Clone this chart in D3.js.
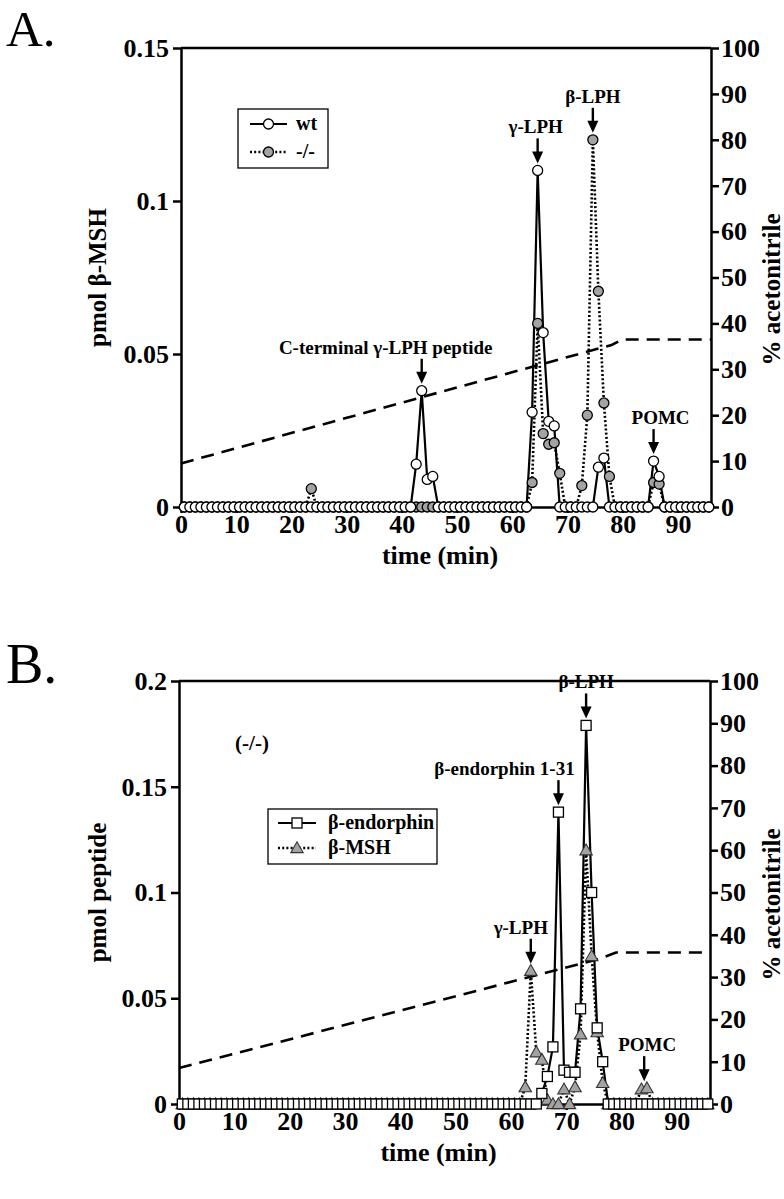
<!DOCTYPE html>
<html><head><meta charset="utf-8">
<script src="https://cdn.jsdelivr.net/npm/d3@7"></script>
<style>
body{margin:0;background:#fff;}
text{font-family:"Liberation Serif","Times New Roman",serif;}
</style>
</head><body>
<svg id="c" width="784" height="1199"></svg>
<script>
// ---------- DATA ----------
const times = [0.6,1.6,2.6,3.6,4.6,5.6,6.6,7.6,8.6,9.6,
 10.6,11.6,12.6,13.6,14.6,15.6,16.6,17.6,18.6,19.6,
 20.6,21.6,22.6,23.6,24.6,25.6,26.6,27.6,28.6,29.6,
 30.6,31.6,32.6,33.6,34.6,35.6,36.6,37.6,38.6,39.6,
 40.6,41.6,42.6,43.6,44.6,45.6,46.6,47.6,48.6,49.6,
 50.6,51.6,52.6,53.6,54.6,55.6,56.6,57.6,58.6,59.6,
 60.6,61.6,62.6,63.6,64.6,65.6,66.6,67.6,68.6,69.6,
 70.6,71.6,72.6,73.6,74.6,75.6,76.6,77.6,78.6,79.6,
 80.6,81.6,82.6,83.6,84.6,85.6,86.6,87.6,88.6,89.6,
 90.6,91.6,92.6,93.6,94.6,95.6];

// Panel A: pmol beta-MSH
const wtA = [0,0,0,0,0,0,0,0,0,0,
 0,0,0,0,0,0,0,0,0,0,
 0,0,0,0,0,0,0,0,0,0,
 0,0,0,0,0,0,0,0,0,0,
 0,0,0.014,0.038,0.009,0.010,0,0,0,0,
 0,0,0,0,0,0,0,0,0,0,
 0,0,0,0.031,0.110,0.057,0.028,0.0265,0,0,
 0,0,0,0,0,0.013,0.016,0,0,0,
 0,0,0,0,0,0.015,0.010,0,0,0,
 0,0,0,0,0,0];
const koA = [0,0,0,0,0,0,0,0,0,0,
 0,0,0,0,0,0,0,0,0,0,
 0,0,0,0.006,0,0,0,0,0,0,
 0,0,0,0,0,0,0,0,0,0,
 0,0,0,0,0,0,0,0,0,0,
 0,0,0,0,0,0,0,0,0,0,
 0,0,0,0.008,0.060,0.024,0.0205,0.021,0.011,0,
 0,0,0.007,0.030,0.120,0.0705,0.034,0.010,0,0,
 0,0,0,0,0,0.008,0.0075,0,0,0,
 0,0,0,0,0,0];

// Panel B: pmol peptide (-/-)
const endoB = [0,0,0,0,0,0,0,0,0,0,
 0,0,0,0,0,0,0,0,0,0,
 0,0,0,0,0,0,0,0,0,0,
 0,0,0,0,0,0,0,0,0,0,
 0,0,0,0,0,0,0,0,0,0,
 0,0,0,0,0,0,0,0,0,0,
 0,0,0,0,0,0.005,0.013,0.027,0.138,0.016,
 0.015,0.015,0.045,0.179,0.100,0.036,0.020,0,0,0,
 0,0,0,0,0,0,0,0,0,0,
 0,0,0,0,0,0];
const mshB = [0,0,0,0,0,0,0,0,0,0,
 0,0,0,0,0,0,0,0,0,0,
 0,0,0,0,0,0,0,0,0,0,
 0,0,0,0,0,0,0,0,0,0,
 0,0,0,0,0,0,0,0,0,0,
 0,0,0,0,0,0,0,0,0,0,
 0,0,0.008,0.063,0.0245,0.021,0.002,0,0,0.007,
 0,0.008,0.033,0.120,0.070,0.034,0.010,0,0,0,
 0,0,0,0.007,0.0075,0,0,0,0,0,
 0,0,0,0,0,0];

// % acetonitrile gradient
const gradTimesA = [0,78,80,96];
const gradA = [9.5,35.3,36.5,36.5];
const gradTimesB = [0,76,79,96];
const gradB = [8.5,34.3,35.8,35.8];

// ticks
const xTicks = [0,10,20,30,40,50,60,70,80,90];
const yTicksA = [0,0.05,0.1,0.15];
const yTicksB = [0,0.05,0.1,0.15,0.2];
const rTicks = [0,10,20,30,40,50,60,70,80,90,100];

// annotations: label, time, value
const annA = [
  {label:"C-terminal \u03b3-LPH peptide", t:43.6, v:0.038, dx:-36},
  {label:"\u03b3-LPH", t:64.6, v:0.110, dx:-2},
  {label:"\u03b2-LPH", t:74.6, v:0.120, dx:0},
  {label:"POMC", t:85.6, v:0.015, dx:7}
];
const annB = [
  {label:"\u03b2-LPH", t:73.6, v:0.179, dx:0},
  {label:"\u03b2-endorphin 1-31", t:68.6, v:0.138, dx:-54},
  {label:"\u03b3-LPH", t:63.6, v:0.063, dx:-10},
  {label:"POMC", t:84.1, v:0.0075, dx:3}
];

// ---------- DRAW ----------
const svg = d3.select("#c");
const FONT = '"Liberation Serif","Times New Roman",serif';
const GRAY = "#a3a3a3";

function marker(g, type, fill, cx, cy) {
  if (type === "circle") {
    g.append("circle").attr("cx",cx).attr("cy",cy).attr("r",5)
      .attr("fill",fill).attr("stroke","#000").attr("stroke-width",1.3);
  } else if (type === "square") {
    g.append("rect").attr("x",cx-5).attr("y",cy-5).attr("width",10).attr("height",10)
      .attr("fill",fill).attr("stroke","#000").attr("stroke-width",1.3);
  } else {
    const s = 6.2;
    g.append("path").attr("d",`M${cx},${cy-s}L${cx+s},${cy+s*0.75}L${cx-s},${cy+s*0.75}Z`)
      .attr("fill",fill).attr("stroke","#333").attr("stroke-width",1.1);
  }
}

function drawPanel(o) {
  const g = svg.append("g");
  const x = d3.scaleLinear().domain([0,96]).range([o.left,o.right]);
  const y = d3.scaleLinear().domain([0,o.ymax]).range([o.bottom,o.top]);
  const yr = d3.scaleLinear().domain([0,100]).range([o.bottom,o.top]);

  // gradient
  g.append("path").datum(d3.zip(o.gradT,o.gradV))
    .attr("d", d3.line().x(d=>x(d[0])).y(d=>yr(d[1])))
    .attr("fill","none").attr("stroke","#000").attr("stroke-width",2.6)
    .attr("stroke-dasharray","13 8");

  // top frame
  g.append("line").attr("x1",o.left).attr("x2",o.right).attr("y1",o.top).attr("y2",o.top)
    .attr("stroke","#000").attr("stroke-width",2.5);

  const styleAxis = sel => {
    sel.selectAll(".domain").attr("stroke-width",2.5);
    sel.selectAll(".tick line").attr("stroke-width",2.5);
    sel.selectAll("text").attr("font-family",FONT).attr("font-weight","bold")
      .attr("font-size",26).attr("fill","#000");
  };
  g.append("g").attr("transform",`translate(0,${o.bottom})`)
    .call(d3.axisBottom(x).tickValues(xTicks).tickSize(6).tickSizeOuter(0).tickPadding(2).tickFormat(d3.format("d")))
    .call(styleAxis);
  g.append("g").attr("transform",`translate(${o.left},0)`)
    .call(d3.axisLeft(y).tickValues(o.yTicks).tickSize(8).tickSizeOuter(0).tickPadding(4).tickFormat(d=>String(d)))
    .call(styleAxis);
  g.append("g").attr("transform",`translate(${o.right},0)`)
    .call(d3.axisRight(yr).tickValues(rTicks).tickSize(8).tickSizeOuter(0).tickPadding(2).tickFormat(d3.format("d")))
    .call(styleAxis);

  // axis titles
  g.append("text").attr("transform",`translate(97,${(o.top+o.bottom)/2})rotate(-90)`)
    .attr("text-anchor","middle").attr("dominant-baseline","central")
    .attr("font-weight","bold").attr("font-size",25).text(o.ylabel);
  g.append("text").attr("transform",`translate(771,${(o.top+o.bottom)/2+12})rotate(-90)`)
    .attr("text-anchor","middle").attr("dominant-baseline","central")
    .attr("font-weight","bold").attr("font-size",25).text("% acetonitrile");
  g.append("text").attr("x",(o.left+o.right)/2 - 6).attr("y",o.bottom+57)
    .attr("text-anchor","middle").attr("font-weight","bold").attr("font-size",26).text("time (min)");

  // panel letter
  g.append("text").attr("x",6).attr("y",o.letterY).attr("font-size",o.letterSize).text(o.letter);

  // series lines
  const ln = d3.line().x((d,i)=>x(times[i])).y(d=>y(d));
  g.append("path").datum(o.s2.vals).attr("d",ln).attr("fill","none")
    .attr("stroke","#000").attr("stroke-width",2.6).attr("stroke-dasharray","2 2.2");
  g.append("path").datum(o.s1.vals).attr("d",ln).attr("fill","none")
    .attr("stroke","#000").attr("stroke-width",2.2);
  // markers
  const m2 = g.append("g"), m1 = g.append("g");
  o.s2.vals.forEach((v,i)=>marker(m2,o.s2.type,o.s2.fill,x(times[i]),y(v)));
  o.s1.vals.forEach((v,i)=>marker(m1,o.s1.type,o.s1.fill,x(times[i]),y(v)));

  // annotations
  o.ann.forEach(a=>{
    const ax = x(a.t), tip = y(a.v) - 7, top = tip - 25;
    g.append("line").attr("x1",ax).attr("x2",ax).attr("y1",top).attr("y2",tip-8)
      .attr("stroke","#000").attr("stroke-width",2.4);
    g.append("path").attr("d",`M${ax-5.5},${tip-12}L${ax+5.5},${tip-12}L${ax},${tip}Z`).attr("fill","#000");
    g.append("text").attr("x",ax+a.dx).attr("y",top-5).attr("text-anchor","middle")
      .attr("font-weight","bold").attr("font-size",19).text(a.label);
  });

  // legend
  const L = o.legend;
  g.append("rect").attr("x",L.x).attr("y",L.y).attr("width",L.w).attr("height",L.h)
    .attr("fill","#fff").attr("stroke","#000").attr("stroke-width",1.3);
  [o.s1,o.s2].forEach((s,i)=>{
    const ry = L.y + L.r0 + i*L.dy;
    g.append("line").attr("x1",L.x+L.lx0).attr("x2",L.x+L.lx1).attr("y1",ry).attr("y2",ry)
      .attr("stroke","#000").attr("stroke-width",i===0?2.2:2.6)
      .attr("stroke-dasharray",i===0?null:"2 2.2");
    marker(g,s.type,s.fill,L.x+(L.lx0+L.lx1)/2,ry);
    g.append("text").attr("x",L.x+L.tx).attr("y",ry+6).attr("font-weight","bold")
      .attr("font-size",20).text(s.name);
  });
  if (o.note) {
    g.append("text").attr("x",o.note.x).attr("y",o.note.y).attr("text-anchor","middle")
      .attr("font-weight","bold").attr("font-size",21).text(o.note.text);
  }
}

drawPanel({
  left:181, right:711, top:48, bottom:507, ymax:0.15, yTicks:yTicksA,
  ylabel:"pmol \u03b2-MSH", letter:"A.", letterY:46, letterSize:51,
  gradT:gradTimesA, gradV:gradA,
  s1:{vals:wtA, type:"circle", fill:"#fff", name:"wt"},
  s2:{vals:koA, type:"circle", fill:GRAY, name:"-/-"},
  ann:annA,
  legend:{x:238,y:109,w:90,h:59,r0:15,dy:28,lx0:12,lx1:49,tx:58}
});
drawPanel({
  left:179, right:710, top:681, bottom:1104, ymax:0.2, yTicks:yTicksB,
  ylabel:"pmol peptide", letter:"B.", letterY:683, letterSize:56,
  gradT:gradTimesB, gradV:gradB,
  s1:{vals:endoB, type:"square", fill:"#fff", name:"\u03b2-endorphin"},
  s2:{vals:mshB, type:"triangle", fill:GRAY, name:"\u03b2-MSH"},
  ann:annB,
  legend:{x:268,y:809,w:169,h:55,r0:14,dy:25,lx0:10,lx1:48,tx:60},
  note:{x:252,y:750,text:"(-/-)"}
});
</script>
</body></html>
